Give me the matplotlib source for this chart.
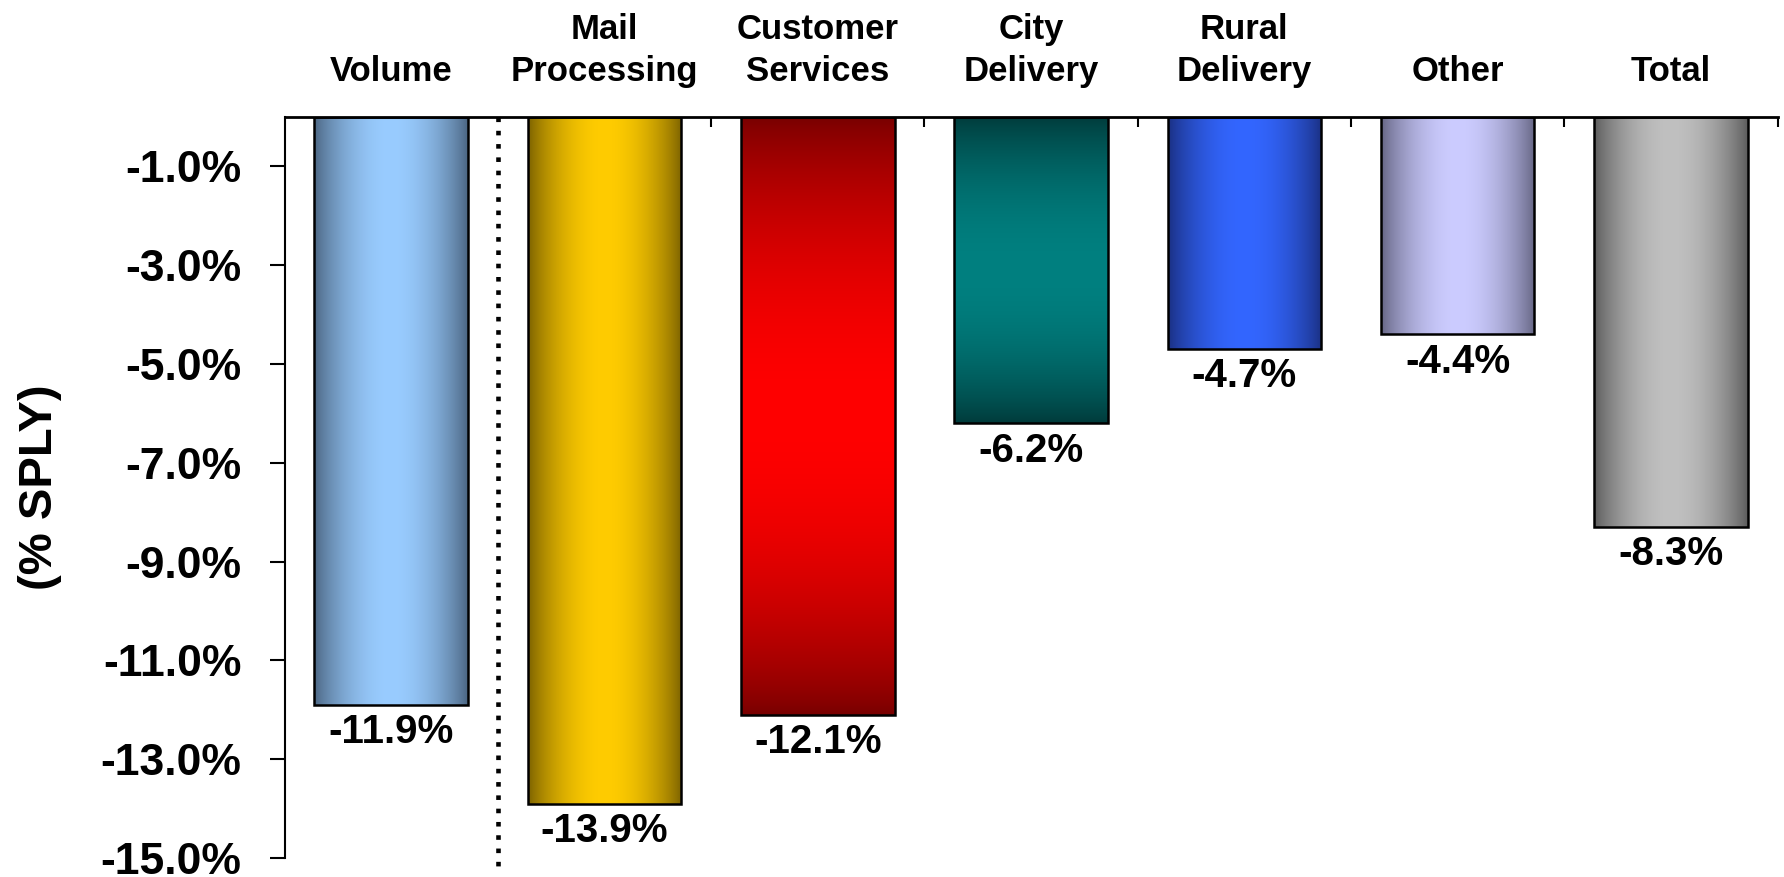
import numpy as np
import matplotlib.pyplot as plt
from matplotlib.colors import to_rgb

plt.rcParams['font.family'] = ['Liberation Sans', 'DejaVu Sans']
plt.rcParams['font.weight'] = 'bold'

# data
categories = ['Volume', 'Mail\nProcessing', 'Customer\nServices', 'City\nDelivery',
              'Rural\nDelivery', 'Other', 'Total']
values = [-11.9, -13.9, -12.1, -6.2, -4.7, -4.4, -8.3]
yticks = [-1.0, -3.0, -5.0, -7.0, -9.0, -11.0, -13.0, -15.0]

# gradient colours: dark edge, light centre, direction
edge_cols = ['#4a6480', '#7a6000', '#780000', '#003a3a', '#1a2f80', '#646482', '#5a5a5a']
centre_cols = ['#99ccff', '#ffcc00', '#ff0000', '#008080', '#3366ff', '#ccccff', '#c0c0c0']
directions = ['h', 'h', 'v', 'v', 'h', 'h', 'h']


def make_gradient(c0, c1, direction, n=256):
    t = np.linspace(0, 1, n)
    w = np.sin(np.pi * t) ** 0.8
    a = np.array(to_rgb(c0))
    b = np.array(to_rgb(c1))
    cols = a[None, :] * (1 - w[:, None]) + b[None, :] * w[:, None]
    if direction == 'h':
        return cols[None, :, :]
    return cols[:, None, :]


fig = plt.figure(figsize=(17.84, 8.77), dpi=100)
ax = fig.add_axes([0.1595, 0.0217, 0.8369, 0.8449])

x = np.arange(len(categories))
bars = ax.bar(x, values, width=0.72, facecolor='none', edgecolor='black',
              linewidth=1.8, zorder=3)

for bar, c0, c1, d in zip(bars, edge_cols, centre_cols, directions):
    x0 = bar.get_x()
    x1 = x0 + bar.get_width()
    y0 = bar.get_y()
    y1 = y0 + bar.get_height()
    im = ax.imshow(make_gradient(c0, c1, d), extent=[x0, x1, y1, y0],
                   aspect='auto', zorder=2, interpolation='bilinear')
    im.set_clip_path(bar)

# value labels under each bar
for xi, v in zip(x, values):
    ax.annotate(f'{v:.1f}%', xy=(xi, v), xytext=(0, -6), textcoords='offset points',
                ha='center', va='top', fontsize=29, fontweight='bold')

# dotted separator between Volume and the cost categories
ax.plot([0.5, 0.5], [0, -15.18], color='black', lw=3.3, dashes=(1, 1.9),
        dash_capstyle='butt', clip_on=False, zorder=4)

ax.set_xlim(-0.5, 6.5)
ax.set_ylim(-15, 0)

ax.xaxis.set_ticks_position('top')
ax.set_xticks(x)
ax.set_xticklabels(categories, fontsize=25, fontweight='bold', linespacing=1.35)
ax.set_xticks(np.arange(1.5, 7, 1), minor=True)
ax.tick_params(axis='x', which='major', length=0, pad=21)
ax.tick_params(axis='x', which='minor', direction='in', length=7, width=1.5,
               top=True, bottom=False)

ax.set_yticks(yticks)
ax.set_yticklabels([f'{v:.1f}%' for v in yticks], fontsize=32, fontweight='bold')
ax.tick_params(axis='y', direction='out', length=11, width=1.5, pad=20)

ax.spines['right'].set_visible(False)
ax.spines['bottom'].set_visible(False)
ax.spines['top'].set_linewidth(2)
ax.spines['left'].set_linewidth(1.5)

fig.text(0.0225, 0.445, '(% SPLY)', rotation=90, ha='center', va='center',
         fontsize=34, fontweight='bold')

fig.savefig('out.png', dpi=100)
